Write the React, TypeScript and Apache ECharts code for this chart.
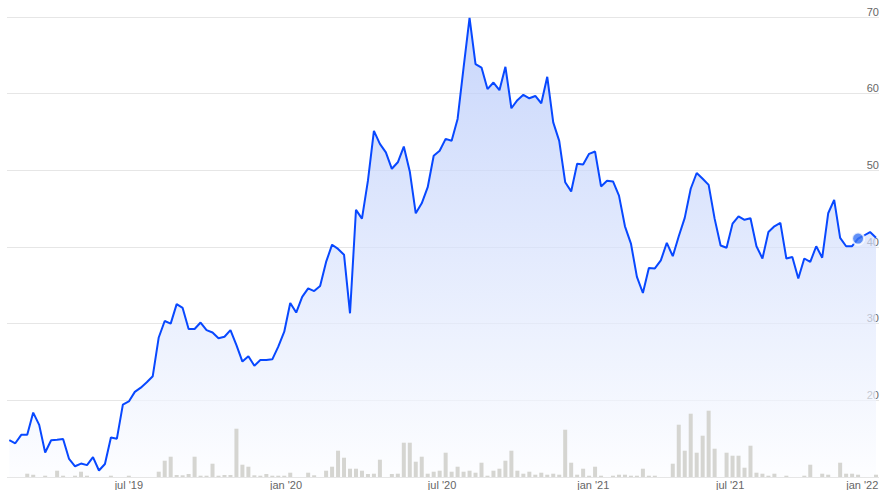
import React, { useEffect, useRef } from "react";
import * as echarts from "echarts";

// weekly closing prices (index = week number)
const prices: number[] = [
  14.8, 14.4, 15.5, 15.5, 18.4, 16.8, 13.2, 14.8, 14.85, 14.95,
  12.35, 11.4, 11.75, 11.55, 12.6, 10.85, 11.7, 15.15, 15.0, 19.45,
  19.85, 21.1, 21.65, 22.35, 23.15, 28.2, 30.35, 30.0, 32.55, 32.05,
  29.3, 29.3, 30.15, 29.15, 28.85, 28.1, 28.3, 29.15, 27.2, 25.05,
  25.75, 24.5, 25.25, 25.25, 25.35, 27.0, 28.95, 32.7, 31.45, 33.5,
  34.6, 34.25, 34.9, 38.05, 40.3, 39.75, 39.0, 31.35, 44.85, 43.7,
  48.65, 55.15, 53.45, 52.35, 50.2, 51.05, 53.1, 49.85, 44.4, 45.7,
  47.8, 51.9, 52.55, 54.1, 53.85, 56.7, 63.4, 69.9, 63.85, 63.4,
  60.6, 61.45, 60.45, 63.5, 58.1, 59.15, 59.85, 59.4, 59.7, 58.75,
  62.2, 56.25, 53.85, 48.45, 47.25, 50.85, 50.75, 52.15, 52.45, 47.9,
  48.65, 48.55, 46.7, 42.7, 40.45, 36.1, 34.0, 37.25, 37.2, 38.25,
  40.55, 38.8, 41.4, 43.8, 47.6, 49.65, 48.9, 48.1, 43.7, 40.2,
  39.9, 43.05, 44.0, 43.55, 43.75, 40.1, 38.5, 41.95, 42.7, 43.15,
  38.5, 38.7, 35.9, 38.5, 38.05, 40.1, 38.6, 44.4, 46.15, 41.2,
  40.1, 40.1, 41.1, 41.5, 41.95, 41.2,
];

// weekly traded volume (relative units)
const volumes: number[] = [
  0, 0, 0, 3.3, 2.3, 0, 1.3, 0, 6.3, 1.3,
  0, 1.3, 5.3, 1.3, 0, 0, 0, 1.3, 0, 0,
  1.3, 0, 0, 0, 0, 5.3, 16.3, 20.3, 2, 1.7,
  3, 20.3, 1.3, 1.3, 13.3, 1.3, 2, 2, 48.3, 12.3,
  10.3, 1.7, 1.3, 3, 1.3, 1.3, 1.3, 4.3, 0, 0,
  4.3, 1.7, 0, 6.3, 10.3, 26.3, 19.3, 8.3, 8.3, 6.3,
  3, 3.3, 17.3, 0, 3, 3.3, 34.3, 34.3, 15.3, 20.3,
  3.3, 5.3, 6.3, 24.3, 5.3, 10.3, 5.3, 6.3, 4.3, 14.3,
  1.3, 6.3, 8.3, 16.3, 26.3, 6.3, 3.3, 5.3, 2.3, 4.3,
  2.3, 3.3, 2.3, 47.3, 14.3, 2.3, 8.3, 1.3, 10.3, 1.3,
  0, 1.3, 2.3, 2.3, 1.3, 1.3, 8.3, 1.3, 1.3, 0,
  0, 13.3, 52.3, 26.3, 63.3, 24.3, 41.3, 66.3, 28.3, 0,
  24.3, 21.3, 21.3, 9.3, 31.3, 4.3, 3.3, 1.3, 3.3, 0,
  1.3, 0, 0, 1.3, 12.3, 0, 3.3, 2.3, 0, 14.3,
  3.3, 3.3, 2.3, 0, 0, 2.3,
];

// x-axis tick labels and their positions (in week index)
const tickLabels: string[] = ["jul '19", "jan '20", "jul '20", "jan '21", "jul '21", "jan '22"];
const tickPositions: number[] = [20, 46.3, 72.4, 97.7, 120.6, 142.7];

// highlighted point (current value)
const markerIndex = 142;

export default function App() {
  const ref = useRef<HTMLDivElement | null>(null);

  useEffect(() => {
    if (!ref.current) return;
    const chart = echarts.init(ref.current, null, { renderer: "svg" });
    const priceData = prices.map((v, i) => [i, v]);
    const volData = volumes.map((v, i) => [i, v]);
    const font = "'Liberation Sans', Arial, sans-serif";

    chart.setOption({
      animation: false,
      backgroundColor: "#ffffff",
      grid: { left: 7, right: 10, top: 17, bottom: 13, containLabel: false },
      xAxis: {
        type: "value",
        min: -0.385,
        max: 145.5,
        axisLine: { show: false },
        axisTick: { show: false },
        splitLine: { show: false },
        axisLabel: {
          customValues: tickPositions,
          margin: 2,
          color: "#666666",
          fontSize: 11,
          fontFamily: font,
          formatter: (val: number) => {
            let best = 0;
            let bd = Infinity;
            tickPositions.forEach((p, i) => {
              const d = Math.abs(p - val);
              if (d < bd) {
                bd = d;
                best = i;
              }
            });
            return tickLabels[best];
          },
        },
      },
      yAxis: [
        {
          type: "value",
          position: "right",
          min: 10,
          max: 70,
          interval: 10,
          axisLine: { show: false },
          axisTick: { show: false },
          splitLine: { lineStyle: { color: "#e6e6e6", width: 1 } },
          axisLabel: {
            inside: true,
            showMinLabel: false,
            margin: 0,
            align: "right",
            verticalAlign: "bottom",
            color: "#666666",
            fontSize: 11,
            fontFamily: font,
          },
        },
        {
          type: "value",
          min: 0,
          max: 460,
          show: false,
          splitLine: { show: false },
        },
      ],
      series: [
        {
          name: "area",
          type: "line",
          data: priceData,
          showSymbol: false,
          symbol: "none",
          lineStyle: { width: 0 },
          areaStyle: {
            origin: "start",
            color: new echarts.graphic.LinearGradient(0, 0, 0, 1, [
              { offset: 0, color: "#b1c5fa" },
              { offset: 1, color: "#fcfdff" },
            ]),
          },
          z: 1,
          silent: true,
        },
        {
          name: "volume",
          type: "bar",
          yAxisIndex: 1,
          data: volData,
          barWidth: 4,
          itemStyle: { color: "#d5d5d1" },
          z: 2,
          silent: true,
        },
        {
          name: "price",
          type: "line",
          data: priceData,
          showSymbol: false,
          symbol: "none",
          lineStyle: { color: "#0848ff", width: 2 },
          z: 3,
          silent: true,
        },
        {
          name: "current",
          type: "scatter",
          data: [[markerIndex, prices[markerIndex]]],
          symbol: "circle",
          symbolSize: 12,
          itemStyle: { color: "#3a74f4", borderColor: "#ffffff", borderWidth: 2 },
          z: 5,
          silent: true,
        },
      ],
    });

    return () => {
      chart.dispose();
    };
  }, []);

  return (
    <div
      ref={ref}
      style={{ position: "fixed", left: 0, top: 0, width: 889, height: 490, background: "#fff" }}
    />
  );
}
